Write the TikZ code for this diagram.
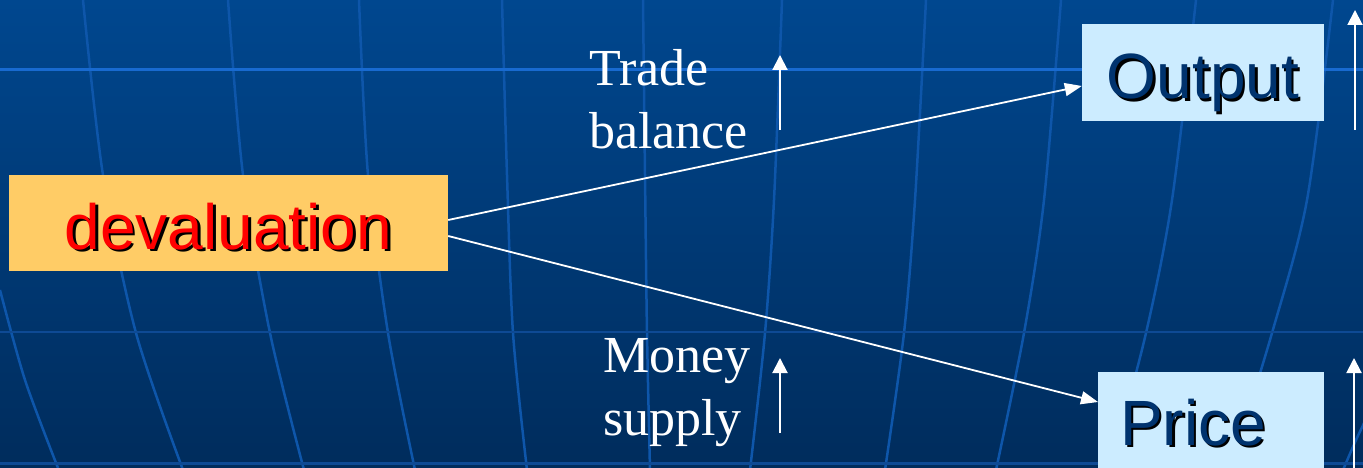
\documentclass[tikz,border=0pt]{standalone}
\usepackage{fontspec}
\setmainfont{Liberation Serif}
\newfontfamily\arialf{Liberation Sans}
\usetikzlibrary{arrows.meta,calc}
\definecolor{bgtop}{RGB}{0,71,143}
\definecolor{bgbot}{RGB}{0,44,92}
\definecolor{gridc}{RGB}{14,86,170}
\definecolor{hgrid}{RGB}{24,106,208}
\definecolor{hgridb}{RGB}{14,74,148}
\definecolor{devfill}{RGB}{255,204,102}
\definecolor{boxfill}{RGB}{204,236,255}
\definecolor{navytext}{RGB}{0,51,110}
\newcommand\shtext[2]{\makebox[0pt][l]{\hspace{2.5pt}\raisebox{-2.5pt}{\color{black}#2}}{\color{#1}#2}}
\begin{document}
\begin{tikzpicture}[x=1pt,y=-1pt,
  gridline/.style={draw=gridc, line width=2.5pt},
  devbox/.style={fill=devfill, minimum width=439pt, minimum height=96pt, inner sep=0pt,
    font=\arialf\fontsize{64}{64}\selectfont, text height=52pt, text depth=0pt},
  bluebox/.style={fill=boxfill, inner sep=0pt, font=\arialf\fontsize{64}{64}\selectfont},
  lbl/.style={align=left, text=white, inner sep=0pt, font=\fontsize{52}{63}\selectfont},
  mainarrow/.style={draw=white, line width=1.8pt, -{Triangle[length=17pt,width=13pt]}},
  uparrow/.style={draw=white, line width=2pt, -{Triangle[length=15pt,width=15pt]}}]
\useasboundingbox (0,0) rectangle (1363,468);
\shade[top color=bgtop, bottom color=bgbot] (0,0) rectangle (1363,468);
\begin{scope}
\clip (0,0) rectangle (1363,468);
% curved grid
\draw[gridline] plot[smooth] coordinates {(0,290) (25,380) (58,468)};
\draw[gridline] plot[smooth] coordinates {(83,0) (103,175) (136,333) (183,470)};
\draw[gridline] plot[smooth] coordinates {(228,0) (243,175) (270,333) (304,470)};
\draw[gridline] plot[smooth] coordinates {(359,0) (368,175) (388,333) (415,470)};
\draw[gridline] plot[smooth] coordinates {(502,0) (507,175) (513,333) (527,470)};
\draw[gridline] plot[smooth] coordinates {(643,0) (645,175) (647,333) (650,470)};
\draw[gridline] plot[smooth] coordinates {(782,0) (774,200) (765,333) (750,470)};
\draw[gridline] plot[smooth] coordinates {(926,0) (915,200) (904,333) (885,470)};
\draw[gridline] plot[smooth] coordinates {(1061,0) (1044,200) (1024,333) (996,470)};
\draw[gridline] plot[smooth] coordinates {(1196,0) (1172,200) (1146,333) (1110,470)};
\draw[gridline] plot[smooth] coordinates {(1333,0) (1307,200) (1272,333) (1230,470)};
\draw[gridline] plot[smooth] coordinates {(1368,415) (1356,440) (1343,470)};
\draw[draw=hgrid, line width=3pt] (0,70) -- (1363,70);
\draw[draw=hgridb, line width=2.5pt] (0,332) -- (1363,332);
\draw[draw=hgridb, line width=3pt] (0,463) -- (1363,463);
\end{scope}
% boxes
\node[devbox] (dev) at (228.5,223) {\shtext{red}{devaluation}};
\node[bluebox, minimum width=242pt, minimum height=97pt, text height=53pt, text depth=0pt]
  (out) at (1203,72.5) {\shtext{navytext}{Output}};
\node[bluebox, anchor=base west, inner xsep=22pt, inner ysep=27pt, text height=46pt, text depth=0pt]
  (price) at (1098,445) {\makebox[182pt][l]{\shtext{navytext}{Price}}};
% labels
\node[lbl, anchor=north west] (tb) at (589,49.5) {Trade\\balance};
\node[lbl, anchor=north west] (ms) at (603,338.6) {Money\\supply};
% main arrows
\draw[mainarrow] ($(dev.east)+(0,-3)$) -- ($(out.west)+(0,13.5)$);
\draw[mainarrow] ($(dev.east)+(0,13)$) -- ($(price.west)+(0,-20)$);
% up arrows
\coordinate (tbA) at (780,130); \coordinate (tbB) at (780,55);
\coordinate (msA) at (780,433); \coordinate (msB) at (780,358);
\coordinate (oA) at (1355,130); \coordinate (oB) at (1355,10);
\coordinate (pA) at (1354,472); \coordinate (pB) at (1354,358);
\draw[uparrow] (tbA) -- (tbB);
\draw[uparrow] (msA) -- (msB);
\draw[uparrow] (oA) -- (oB);
\draw[uparrow] (pA) -- (pB);
\end{tikzpicture}
\end{document}
